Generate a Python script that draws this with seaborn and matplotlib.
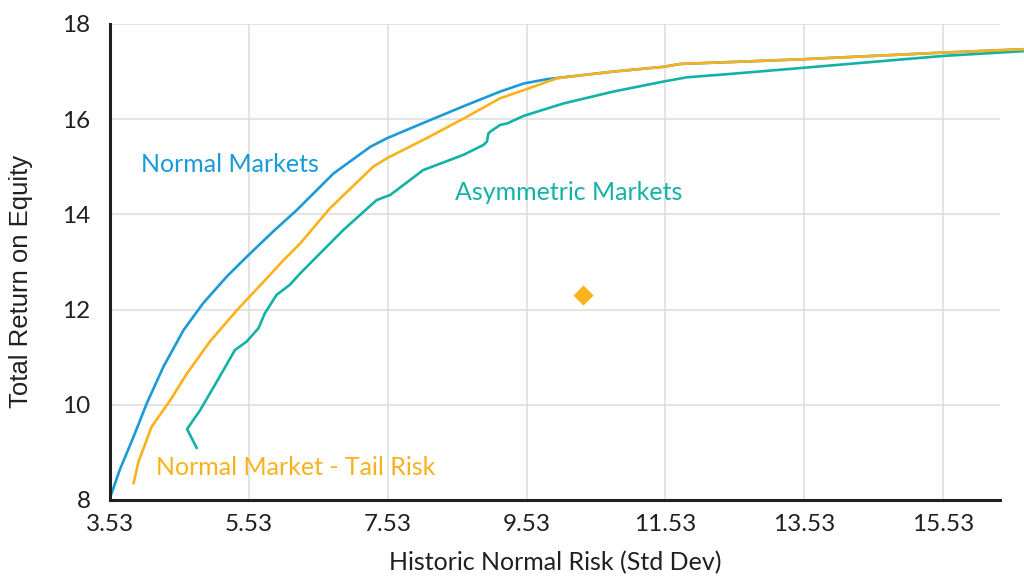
import numpy as np
import pandas as pd
import seaborn as sns
import matplotlib.pyplot as plt

# frontier curves (std dev, return)
normal_x = [3.53, 3.67, 3.87, 4.06, 4.30, 4.59, 4.87, 5.21, 5.50, 5.88, 6.22, 6.75, 7.28, 7.52,
            8.14, 8.67, 9.15, 9.49, 9.82, 10.06, 10.78, 11.50, 11.74, 12.46, 13.52, 15.54, 16.70]
normal_y = [8.04, 8.63, 9.33, 10.03, 10.80, 11.57, 12.13, 12.69, 13.11, 13.64, 14.09, 14.86, 15.42, 15.60,
            15.98, 16.30, 16.58, 16.75, 16.84, 16.88, 17.00, 17.10, 17.16, 17.20, 17.26, 17.40, 17.47]

tail_x = [3.87, 3.94, 4.13, 4.40, 4.64, 4.97, 5.36, 5.79, 6.03, 6.27, 6.70, 7.32, 7.52, 8.09,
          8.67, 9.15, 9.49, 9.97, 10.78, 11.50, 11.74, 12.46, 13.52, 15.54, 16.70]
tail_y = [8.35, 8.80, 9.54, 10.10, 10.66, 11.33, 11.99, 12.66, 13.04, 13.39, 14.13, 15.00, 15.18, 15.60,
          16.05, 16.44, 16.61, 16.86, 17.00, 17.10, 17.16, 17.20, 17.26, 17.40, 17.47]

asym_x = [4.78, 4.64, 4.83, 5.07, 5.33, 5.50, 5.67, 5.76, 5.93, 6.12, 6.27, 6.46, 6.89, 7.37, 7.57,
          8.04, 8.62, 8.91, 8.96, 8.98, 9.01, 9.15, 9.25, 9.49, 10.06, 10.78, 11.50, 11.84, 12.46,
          13.52, 15.54, 16.70]
asym_y = [9.09, 9.49, 9.89, 10.49, 11.15, 11.33, 11.61, 11.92, 12.31, 12.52, 12.76, 13.04, 13.67, 14.30, 14.41,
          14.93, 15.25, 15.46, 15.53, 15.70, 15.74, 15.88, 15.91, 16.07, 16.33, 16.58, 16.79, 16.88, 16.95,
          17.08, 17.33, 17.43]

point_x = [10.35]
point_y = [12.3]

x_ticks = [3.53, 5.53, 7.53, 9.53, 11.53, 13.53, 15.53]
y_ticks = [8, 10, 12, 14, 16, 18]

blue = "#1a9ad6"
orange = "#f9b21b"
teal = "#13b2a6"
ink = "#231f20"

sns.set_style("white")
plt.rcParams['font.family'] = ['Lato', 'DejaVu Sans']

fig = plt.figure(figsize=(10.24, 5.78), dpi=100)
ax = fig.add_axes([0.1074, 0.135, 0.8692, 0.8235])

sns.lineplot(x=normal_x, y=normal_y, sort=False, color=blue, linewidth=1.9, ax=ax)
sns.lineplot(x=asym_x, y=asym_y, sort=False, color=teal, linewidth=1.9, ax=ax)
sns.lineplot(x=tail_x, y=tail_y, sort=False, color=orange, linewidth=1.9, ax=ax)
for ln in ax.lines:
    ln.set_clip_on(False)
    ln.set_solid_joinstyle('round')

sns.scatterplot(x=point_x, y=point_y, marker='D', s=105, color=orange, linewidth=0, ax=ax, zorder=5)

ax.set_xlim(3.53, 16.35)
ax.set_ylim(8, 18)
ax.set_xticks(x_ticks)
ax.set_xticklabels([f"{t:.2f}" for t in x_ticks])
ax.set_yticks(y_ticks)
ax.grid(True, color='#dcdcdc', linewidth=1.1)
ax.set_axisbelow(True)

for s in ['top', 'right']:
    ax.spines[s].set_visible(False)
for s in ['left', 'bottom']:
    ax.spines[s].set_color(ink)
    ax.spines[s].set_linewidth(2.2)

ax.tick_params(axis='both', direction='in', length=14, width=2, color=ink,
               labelsize=17.5, labelcolor=ink)
ax.tick_params(axis='y', pad=14)
ax.tick_params(axis='x', pad=10)

ax.set_xlabel("Historic Normal Risk (Std Dev)", fontsize=18, color=ink)
ax.xaxis.set_label_coords(0.5, -0.108)
ax.set_ylabel("Total Return on Equity", fontsize=18.5, color=ink,
              family=['Liberation Sans', 'DejaVu Sans'])
ax.yaxis.set_label_coords(-0.087, 0.46)

ax.text(3.98, 15.04, "Normal Markets", color=blue, fontsize=18, va='center', ha='left')
ax.text(8.50, 14.45, "Asymmetric Markets", color=teal, fontsize=18, va='center', ha='left')
ax.text(4.19, 8.69, "Normal Market - Tail Risk", color=orange, fontsize=18, va='center', ha='left')

fig.savefig("out.png", dpi=100)
